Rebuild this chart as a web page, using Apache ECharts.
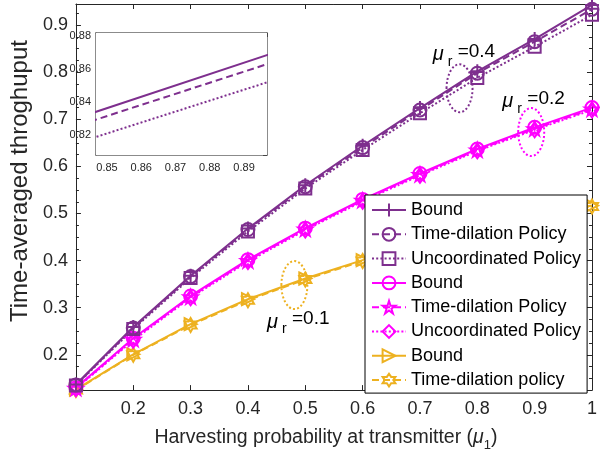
<!DOCTYPE html>
<html><head><meta charset="utf-8">
<script src="https://cdn.jsdelivr.net/npm/echarts@6/dist/echarts.min.js"></script>
<style>html,body{margin:0;padding:0;background:#fff}#c{width:600px;height:457px}</style>
</head><body><div id="c"></div>
<script>
// ---------- data ----------
const xValues = [0.1, 0.2, 0.3, 0.4, 0.5, 0.6, 0.7, 0.8, 0.9, 1.0];
// mu_r = 0.4
const bound04 = [0.137, 0.259, 0.368, 0.468, 0.560, 0.644, 0.724, 0.802, 0.8705, 0.943];
const timeDil04 = [0.136, 0.257, 0.366, 0.466, 0.557, 0.640, 0.720, 0.798, 0.865, 0.934];
const uncoord04 = [0.135, 0.255, 0.363, 0.462, 0.553, 0.635, 0.713, 0.788, 0.854, 0.922];
// mu_r = 0.2
const bound02 = [0.130, 0.235, 0.325, 0.402, 0.469, 0.530, 0.585, 0.637, 0.683, 0.725];
const timeDil02 = [0.129, 0.233, 0.323, 0.400, 0.467, 0.528, 0.583, 0.635, 0.680, 0.722];
const uncoord02 = [0.128, 0.231, 0.321, 0.398, 0.465, 0.526, 0.581, 0.633, 0.678, 0.720];
// mu_r = 0.1
const bound01 = [0.126, 0.201, 0.265, 0.318, 0.362, 0.401, 0.436, 0.466, 0.493, 0.517];
const timeDil01 = [0.125, 0.200, 0.263, 0.316, 0.360, 0.399, 0.434, 0.464, 0.491, 0.515];

const legendNames = ['Bound', 'Time-dilation Policy', 'Uncoordinated Policy',
  'Bound\u200b', 'Time-dilation Policy\u200b', 'Uncoordinated Policy\u200b',
  'Bound\u200b\u200b', 'Time-dilation policy'];

// annotations (data coordinates)
const annotLabels = ['0.4', '0.2', '0.1'];
const annotTextX = [0.7605, 0.882, 0.4716];
const annotTextY = [0.8436, 0.744, 0.2758];
const ellipseX = [0.769, 0.894, 0.481];
const ellipseY = [0.766, 0.673, 0.348];

// axis ranges
const mainX = [0.1, 1.0];
const mainY = [0.125, 0.945];
const insetX = [0.8468, 0.8967];
const insetY = [0.808, 0.8816];

// ---------- styles ----------
const PURPLE = '#7E2F8E', MAGENTA = '#FF00FF', ORANGE = '#EDB120';
const annotColors = [PURPLE, MAGENTA, ORANGE];
const FONT = '"Liberation Sans", Arial, Helvetica, sans-serif';
const AX = '#262626';

function starPath(n, inner) {
  let d = '';
  for (let i = 0; i < 2 * n; i++) {
    const r = i % 2 === 0 ? 1 : inner;
    const a = -Math.PI / 2 + i * Math.PI / n;
    d += (i === 0 ? 'M' : 'L') + (r * Math.cos(a)).toFixed(4) + ',' + (r * Math.sin(a)).toFixed(4);
  }
  return 'path://' + d + 'Z';
}
const SYM = {
  plus: 'path://M0,-1L0,1M-1,0L1,0',
  circle: 'circle',
  square: 'rect',
  diamond: 'path://M0,-1.25L0.9,0L0,1.25L-0.9,0Z',
  pentagram: starPath(5, 0.382),
  hexagram: starPath(6, 0.577),
  triRight: 'path://M-1,-1L1,0L-1,1Z'
};
const DASH = [7, 4], DOT = [2, 2.2];

function pair(a) { return xValues.map((x, i) => [x, a[i]]); }

function mainSeries(name, arr, color, dash, sym, size) {
  return {
    type: 'line', name: name, data: pair(arr), xAxisIndex: 0, yAxisIndex: 0,
    symbol: sym, symbolSize: size, symbolKeepAspect: true, showSymbol: true,
    lineStyle: { color: color, width: 2, type: dash },
    itemStyle: { color: 'rgba(0,0,0,0)', borderColor: color, borderWidth: 2 },
    emphasis: { disabled: true }, z: 3
  };
}
function insetSeries(arr, color, dash) {
  return {
    type: 'line', data: pair(arr), xAxisIndex: 2, yAxisIndex: 2, symbol: 'none',
    lineStyle: { color: color, width: 2, type: dash }, clip: true,
    emphasis: { disabled: true }, silent: true, z: 5
  };
}

const series = [
  mainSeries(legendNames[7], timeDil01, ORANGE, DASH, SYM.hexagram, 14),
  mainSeries(legendNames[6], bound01, ORANGE, 'solid', SYM.triRight, 12),
  mainSeries(legendNames[5], uncoord02, MAGENTA, DOT, SYM.diamond, 15),
  mainSeries(legendNames[4], timeDil02, MAGENTA, DASH, SYM.pentagram, 14),
  mainSeries(legendNames[3], bound02, MAGENTA, 'solid', SYM.circle, 13),
  mainSeries(legendNames[2], uncoord04, PURPLE, DOT, SYM.square, 12),
  mainSeries(legendNames[1], timeDil04, PURPLE, DASH, SYM.circle, 13),
  mainSeries(legendNames[0], bound04, PURPLE, 'solid', SYM.plus, 14),
  insetSeries(bound04, PURPLE, 'solid'),
  insetSeries(timeDil04, PURPLE, DASH),
  insetSeries(uncoord04, PURPLE, DOT),
  {
    type: 'custom', xAxisIndex: 0, yAxisIndex: 0, silent: true, z: 6,
    data: ellipseX.map((x, i) => [x, ellipseY[i], i]),
    renderItem: function (params, api) {
      const p = api.coord([api.value(0), api.value(1)]);
      const c = annotColors[api.value(2)];
      return { type: 'ellipse', shape: { cx: p[0], cy: p[1], rx: 13, ry: 24 },
        style: { fill: 'none', stroke: c, lineWidth: 2, lineDash: [2, 2.2] } };
    }
  },
  {
    type: 'custom', xAxisIndex: 0, yAxisIndex: 0, silent: true, z: 6,
    data: annotTextX.map((x, i) => [x, annotTextY[i], i]),
    renderItem: function (params, api) {
      const p = api.coord([api.value(0), api.value(1)]);
      const lab = annotLabels[api.value(2)];
      return { type: 'group', children: [
        { type: 'text', x: p[0] - 11, y: p[1] + 3, style: { text: 'μ', fontSize: 20, fontStyle: 'italic', fontFamily: FONT, fill: '#000', align: 'right', verticalAlign: 'middle' } },
        { type: 'text', x: p[0] - 7, y: p[1] + 10, style: { text: 'r', fontSize: 14, fontFamily: FONT, fill: '#000', align: 'left', verticalAlign: 'middle' } },
        { type: 'text', x: p[0] + 3, y: p[1], style: { text: '=' + lab, fontSize: 19, fontFamily: FONT, fill: '#000', align: 'left', verticalAlign: 'middle' } }
      ]};
    }
  }
];

function tickAxis(extra) {
  return Object.assign({
    axisLine: { show: true, onZero: false, lineStyle: { color: AX, width: 1 } },
    axisTick: { show: true, inside: true, length: 5, lineStyle: { color: AX } },
    splitLine: { show: false },
    axisLabel: { show: false }
  }, extra);
}

const chart = echarts.init(document.getElementById('c'), null, { renderer: 'canvas' });
chart.setOption({
  animation: false,
  backgroundColor: '#fff',
  grid: [
    { left: 66, top: 4, width: 531.5, height: 389.3, containLabel: false },
    { left: 96, top: 33, width: 171, height: 122, show: true, backgroundColor: '#fff', borderWidth: 0, z: 4 }
  ],
  xAxis: [
    tickAxis({ type: 'value', gridIndex: 0, position: 'bottom', min: mainX[0], max: mainX[1], interval: 0.1,
      axisLabel: { show: true, showMinLabel: false, showMaxLabel: true, margin: 10, fontSize: 18, color: AX, fontFamily: FONT },
      name: '{t|Harvesting probability at transmitter (}{mu|μ}{sub|1}{t|)}', nameLocation: 'middle', nameGap: 32,
      nameTextStyle: { fontSize: 19.5, fontFamily: FONT, color: AX, padding: [0, 16, 0, 0],
        rich: { t: { fontSize: 19.5, fontFamily: FONT, color: AX },
                mu: { fontSize: 19.5, fontFamily: FONT, color: AX, fontStyle: 'italic' },
                sub: { fontSize: 13, fontFamily: FONT, color: AX, lineHeight: 13, padding: [16, 0, 0, 0] } } } }),
    tickAxis({ type: 'value', gridIndex: 0, position: 'top', min: mainX[0], max: mainX[1], interval: 0.1 }),
    tickAxis({ type: 'value', gridIndex: 1, position: 'bottom', min: insetX[0], max: insetX[1], splitNumber: 5,
      axisLine: { show: true, onZero: false, lineStyle: { color: '#666', width: 1.5 } },
      axisTick: { show: true, inside: true, length: 4, lineStyle: { color: '#444' } },
      axisLabel: { show: true, showMinLabel: false, showMaxLabel: false, margin: 7, fontSize: 11, color: AX, fontFamily: FONT } }),
    tickAxis({ type: 'value', gridIndex: 1, position: 'top', min: insetX[0], max: insetX[1], splitNumber: 5,
      axisLine: { show: true, onZero: false, lineStyle: { color: '#666', width: 1.5 } },
      axisTick: { show: true, inside: true, length: 4, lineStyle: { color: '#444' } } })
  ],
  yAxis: [
    tickAxis({ type: 'value', gridIndex: 0, position: 'left', min: mainY[0], max: mainY[1], splitNumber: 8,
      minorTick: { show: true, splitNumber: 4, length: 3, lineStyle: { color: AX } },
      axisLabel: { show: true, showMinLabel: false, showMaxLabel: false, margin: 8, fontSize: 18, color: AX, fontFamily: FONT },
      name: 'Time-averaged throghuput', nameLocation: 'middle', nameGap: 27, nameRotate: 90,
      nameTextStyle: { fontSize: 24, fontFamily: FONT, color: AX, padding: [0, 0, 0, 32] } }),
    tickAxis({ type: 'value', gridIndex: 0, position: 'right', min: mainY[0], max: mainY[1], splitNumber: 8,
      minorTick: { show: true, splitNumber: 4, length: 3, lineStyle: { color: AX } } }),
    tickAxis({ type: 'value', gridIndex: 1, position: 'left', min: insetY[0], max: insetY[1], splitNumber: 4,
      axisLine: { show: true, onZero: false, lineStyle: { color: '#666', width: 1.5 } },
      axisTick: { show: true, inside: true, length: 4, lineStyle: { color: '#444' } },
      axisLabel: { show: true, showMinLabel: false, showMaxLabel: false, margin: 5, fontSize: 11, color: AX, fontFamily: FONT } }),
    tickAxis({ type: 'value', gridIndex: 1, position: 'right', min: insetY[0], max: insetY[1], splitNumber: 4,
      axisLine: { show: true, onZero: false, lineStyle: { color: '#666', width: 1.5 } },
      axisTick: { show: true, inside: true, length: 4, lineStyle: { color: '#444' } } })
  ],
  legend: {
    data: legendNames, orient: 'vertical', left: 365, top: 195, align: 'left',
    itemWidth: 34, itemHeight: 16, itemGap: 6.3,
    padding: [6, 6, 4, 6],
    backgroundColor: '#fff', borderColor: '#000', borderWidth: 1, borderRadius: 0,
    selectedMode: false, z: 10,
    formatter: function (n) { return n.replace(/\u200b/g, ''); },
    textStyle: { fontSize: 18, fontFamily: FONT, color: '#000', lineHeight: 18, padding: [0, 0, 0, 0] }
  },
  series: series
});
</script></body></html>
